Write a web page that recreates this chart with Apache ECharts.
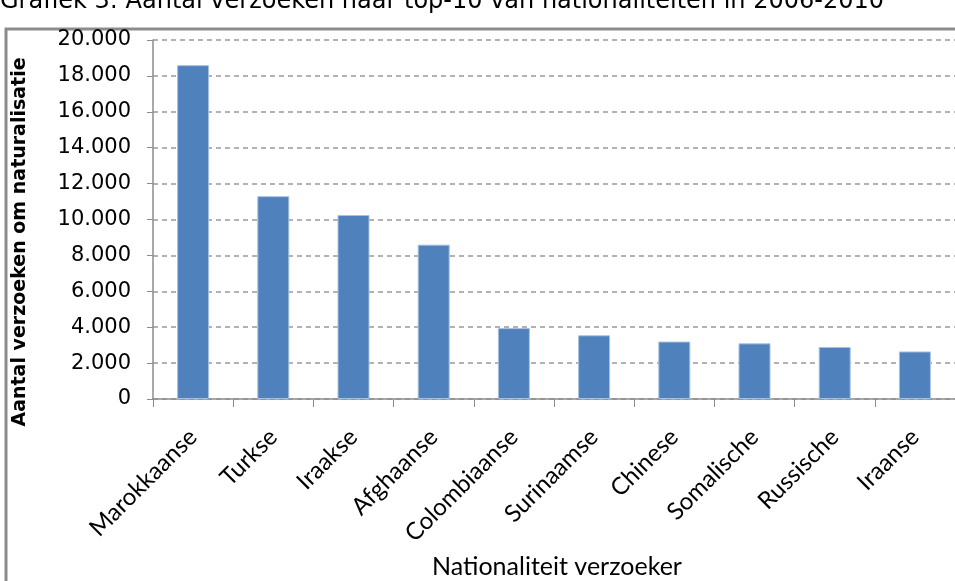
<!DOCTYPE html>
<html><head><meta charset="utf-8">
<script src="https://cdn.jsdelivr.net/npm/echarts@6/dist/echarts.min.js"></script>
<style>html,body{margin:0;padding:0;background:#fff}#c{width:955px;height:581px}</style>
</head><body><div id="c"></div>
<script>
var categories = ["Marokkaanse","Turkse","Iraakse","Afghaanse","Colombiaanse","Surinaamse","Chinese","Somalische","Russische","Iraanse"];
var values = [18600, 11300, 10250, 8600, 3950, 3550, 3200, 3100, 2900, 2650];
var titleText = "Grafiek 3: Aantal verzoeken naar top-10 van nationaliteiten in 2006-2010";
var yName = "Aantal verzoeken om naturalisatie";
var xName = "Nationaliteit verzoeker";

var chart = echarts.init(document.getElementById('c'), null, {renderer:'canvas'});
chart.setOption({
  animation:false,
  backgroundColor:'#fff',
  grid:{left:153, right:-3, top:40, bottom:182, containLabel:false},
  graphic:[
    {type:'text', x:0, y:2, style:{text:titleText, font:'24px "DejaVu Sans"', fill:'#000', verticalAlign:'middle'}},
    {type:'rect', shape:{x:6, y:29, width:960, height:570}, style:{fill:'none', stroke:'#8c8c8c', lineWidth:3}},
    {type:'text', x:20, y:242, rotation:Math.PI/2, style:{text:yName, font:'bold 19px "DejaVu Sans"', fill:'#000', align:'center', verticalAlign:'middle'}},
    {type:'text', x:557, y:567, style:{text:xName, font:'25px Lato', fill:'#000', align:'center', verticalAlign:'middle'}}
  ],
  xAxis:{type:'category', data:categories,
    axisLine:{lineStyle:{color:'#8c8c8c', width:1.5}},
    axisTick:{show:true, length:8, alignWithLabel:false, lineStyle:{color:'#8c8c8c'}},
    axisLabel:{rotate:45, interval:0, margin:34, color:'#000', fontSize:24, fontFamily:'Lato'}
  },
  yAxis:{type:'value', min:0, max:20000, interval:2000,
    axisLine:{show:true, lineStyle:{color:'#8c8c8c', width:1.5}},
    axisTick:{show:true, length:6, lineStyle:{color:'#8c8c8c'}},
    axisLabel:{margin:22, color:'#000', fontSize:21, fontFamily:'"DejaVu Sans"',
      formatter:function(v){return v===0?'0':String(v/1000)+'.000';}},
    splitLine:{show:true, lineStyle:{color:'#999', type:[5,4], width:1.5}}
  },
  series:[{type:'bar', data:values, barWidth:32,
    itemStyle:{color:'#4f81bd', borderColor:'#a9c1e0', borderWidth:1}}]
});
</script></body></html>
